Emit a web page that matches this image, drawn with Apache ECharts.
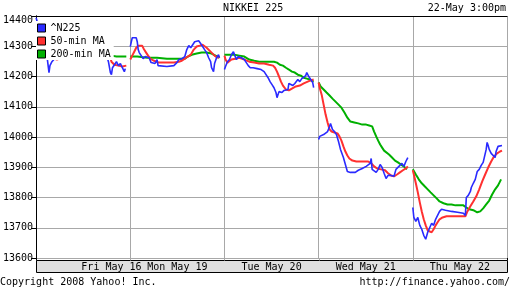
<!DOCTYPE html>
<html><head><meta charset="utf-8">
<script src="https://cdn.jsdelivr.net/npm/echarts@6/dist/echarts.min.js"></script>
<style>html,body{margin:0;padding:0;background:#fff}#c{width:512px;height:288px}</style>
</head><body><div id="c"></div>
<script>
const chartTitle = 'NIKKEI 225';
const stamp = '22-May 3:00pm';
const copyright = 'Copyright 2008 Yahoo! Inc.';
const source = 'http://finance.yahoo.com/';
const seriesNames = ['^N225', '50-min MA', '200-min MA'];
const dayLabels = ['Fri May 16', 'Mon May 19', 'Tue May 20', 'Wed May 21', 'Thu May 22'];
const dayLabelPos = [0.8, 1.5, 2.5, 3.5, 4.5];
const yMin = 13600, yMax = 14400, yStep = 100;

// time in trading days since the Fri 16 May open (each session = 1); null marks a session break
const n225T = [0,.011,.021,.032,.063,.095,.116,.137,.147,.168,.189,.221,.274,.326,.379,.432,.484,.537,.589,.642,.695,.726,.747,.768,.789,.8,.811,.832,.853,.874,.895,.916,.937,.947, null,
 1.000,1.011,1.021,1.042,1.063,1.074,1.084,1.095,1.116,1.137,1.158,1.179,1.200,1.221,1.242,1.263,1.284,1.295,1.316,1.389,1.463,1.495,1.516,1.547,1.579,1.600,1.621,1.642,1.663,1.684,1.705,1.726,1.747,1.768,1.789,1.811,1.832,1.853,1.863,1.884,1.895,1.916,1.937,1.947, null,
 2.000,2.011,2.032,2.053,2.074,2.095,2.116,2.126,2.147,2.179,2.211,2.232,2.253,2.274,2.305,2.347,2.389,2.421,2.442,2.463,2.484,2.505,2.526,2.547,2.558,2.568,2.579,2.611,2.632,2.653,2.674,2.684,2.705,2.726,2.747,2.768,2.779,2.800,2.821,2.842,2.863,2.874,2.895,2.916,2.926,2.937,2.947, null,
 3.000,3.011,3.032,3.053,3.074,3.095,3.116,3.126,3.147,3.168,3.189,3.211,3.232,3.242,3.263,3.284,3.305,3.337,3.389,3.421,3.463,3.505,3.547,3.558,3.568,3.589,3.611,3.632,3.653,3.674,3.695,3.716,3.737,3.768,3.800,3.821,3.842,3.863,3.884,3.905,3.926,3.947, null,
 4.000,4.011,4.032,4.053,4.074,4.095,4.116,4.137,4.147,4.158,4.179,4.200,4.221,4.242,4.263,4.284,4.305,4.347,4.411,4.474,4.537,4.558,4.568,4.589,4.611,4.621,4.642,4.663,4.684,4.705,4.726,4.747,4.768,4.779,4.789,4.800,4.811,4.832,4.853,4.874,4.884,4.905,4.926,4.947];
const n225V = [14394,14388,14371,14355,14322,14289,14266,14213,14236,14249,14256,14269,14282,14289,14295,14305,14309,14315,14322,14315,14305,14279,14272,14249,14213,14206,14229,14239,14249,14236,14243,14229,14216,14226, null,
 14299,14315,14328,14332,14328,14315,14289,14279,14269,14259,14266,14269,14262,14246,14249,14243,14256,14236,14236,14233,14236,14246,14256,14259,14266,14289,14302,14295,14305,14315,14309,14318,14309,14315,14289,14279,14262,14249,14229,14216,14243,14262,14272,14262, null,
 14223,14233,14249,14256,14272,14282,14276,14256,14266,14262,14256,14246,14236,14229,14229,14226,14223,14216,14210,14196,14183,14173,14163,14147,14130,14134,14150,14147,14154,14160,14157,14177,14180,14170,14177,14173,14190,14183,14193,14187,14203,14213,14200,14190,14193,14180,14163, null,
 13992,14002,13998,14008,14005,14018,14035,14045,14025,14018,14008,13985,13959,13965,13932,13909,13886,13883,13883,13890,13896,13903,13913,13929,13893,13899,13883,13893,13909,13899,13880,13863,13873,13873,13870,13893,13899,13906,13913,13903,13919,13932, null,
 13767,13734,13721,13734,13708,13695,13675,13662,13658,13685,13691,13715,13708,13728,13725,13754,13761,13758,13754,13751,13748,13741,13800,13807,13820,13833,13847,13860,13886,13893,13906,13916,13919,13959,13982,13972,13959,13946,13952,13932,13952,13969,13975,13972];

const ma50T = [.021,.063,.116,.168,.221,.274,.379,.484,.589,.695,.747,.768,.8,.832,.874,.916,.958, null,
 1.000,1.021,1.042,1.063,1.084,1.105,1.126,1.147,1.168,1.189,1.211,1.253,1.305,1.389,1.463,1.516,1.547,1.579,1.611,1.642,1.674,1.705,1.737,1.768,1.789,1.811,1.832,1.863,1.895,1.926,1.947, null,
 2.000,2.011,2.032,2.053,2.074,2.116,2.158,2.211,2.263,2.316,2.368,2.421,2.474,2.516,2.537,2.558,2.579,2.600,2.621,2.653,2.684,2.716,2.758,2.800,2.842,2.884,2.916,2.947, null,
 3.000,3.011,3.032,3.053,3.074,3.095,3.116,3.137,3.168,3.200,3.221,3.242,3.263,3.284,3.305,3.326,3.358,3.400,3.463,3.526,3.558,3.589,3.621,3.663,3.705,3.737,3.768,3.800,3.832,3.863,3.895,3.926,3.947, null,
 4.000,4.011,4.032,4.053,4.074,4.095,4.116,4.137,4.158,4.179,4.200,4.221,4.242,4.263,4.284,4.316,4.358,4.411,4.495,4.558,4.579,4.611,4.642,4.674,4.705,4.737,4.768,4.800,4.832,4.863,4.895,4.926,4.947];
const ma50V = [14295,14289,14272,14262,14256,14262,14272,14289,14299,14309,14302,14289,14249,14239,14236,14233,14236, null,
 14256,14269,14282,14295,14302,14305,14302,14289,14279,14269,14259,14252,14246,14246,14246,14249,14252,14259,14266,14272,14289,14299,14302,14305,14302,14295,14289,14279,14269,14262,14266, null,
 14269,14256,14246,14249,14256,14259,14262,14256,14249,14246,14243,14243,14239,14236,14229,14216,14200,14183,14170,14157,14154,14160,14167,14170,14177,14183,14187,14190, null,
 14180,14163,14140,14107,14074,14048,14025,14018,14015,14012,14002,13988,13969,13952,13939,13929,13922,13919,13919,13919,13913,13903,13896,13893,13890,13880,13873,13870,13876,13883,13890,13896,13903, null,
 13890,13876,13847,13817,13784,13754,13728,13708,13691,13685,13685,13695,13708,13718,13728,13734,13738,13738,13738,13738,13754,13771,13787,13804,13827,13853,13876,13899,13919,13936,13946,13952,13955];

const ma200T = [.589,.642,.695,.737,.768,.8,.853,.905,.958, null,
 1.000,1.074,1.179,1.284,1.389,1.495,1.579,1.611,1.653,1.705,1.758,1.811,1.863,1.905,1.947, null,
 2.000,2.053,2.105,2.158,2.211,2.263,2.316,2.368,2.421,2.474,2.526,2.558,2.589,2.621,2.653,2.684,2.716,2.747,2.779,2.811,2.842,2.874,2.905,2.947, null,
 3.000,3.021,3.053,3.084,3.116,3.147,3.179,3.211,3.242,3.274,3.305,3.337,3.379,3.421,3.463,3.505,3.537,3.568,3.589,3.611,3.632,3.653,3.674,3.695,3.716,3.747,3.779,3.811,3.842,3.874,3.905,3.937, null,
 4.000,4.032,4.063,4.095,4.126,4.158,4.189,4.221,4.253,4.284,4.326,4.368,4.411,4.453,4.495,4.537,4.568,4.600,4.642,4.684,4.716,4.747,4.779,4.811,4.842,4.874,4.905,4.937];
const ma200V = [14299,14305,14309,14289,14276,14269,14266,14266,14266, null,
 14266,14266,14262,14262,14259,14259,14259,14266,14272,14276,14279,14279,14276,14269,14262, null,
 14272,14272,14272,14269,14266,14256,14252,14249,14249,14249,14249,14246,14239,14236,14229,14223,14216,14213,14206,14203,14196,14193,14190,14183, null,
 14180,14167,14157,14147,14137,14127,14117,14107,14097,14081,14064,14051,14048,14045,14041,14041,14038,14035,14018,14002,13988,13975,13965,13955,13949,13942,13932,13922,13916,13909,13903,13893, null,
 13893,13876,13860,13847,13837,13827,13817,13807,13797,13787,13781,13777,13777,13774,13774,13774,13767,13761,13758,13751,13754,13764,13777,13790,13810,13827,13840,13860];

function pairs(T, V) {
  const out = [];
  for (let i = 0; i < T.length; i++) {
    if (V[i] === null) out.push([T[i - 1], '-']);
    else out.push([T[i], V[i]]);
  }
  return out;
}

const MONO = 'DejaVu Sans Mono';
const colors = { n225: '#2a2aff', ma50: '#ff3030', ma200: '#00b000' };
const chart = echarts.init(document.getElementById('c'), null, { renderer: 'canvas' });
const txt = { fontFamily: MONO, fontSize: 10, fontWeight: 'normal', color: '#000', lineHeight: 12 };

chart.setOption({
  animation: false,
  backgroundColor: '#fff',
  title: [
    { text: chartTitle, left: 223, top: 2, padding: 0, textStyle: txt },
    { text: stamp, right: 6, top: 2, padding: 0, textStyle: txt },
    { text: copyright, left: 0, top: 276, padding: 0, textStyle: txt },
    { text: source, right: 2, top: 276, padding: 0, textStyle: txt }
  ],
  legend: {
    orient: 'vertical', left: 36, top: 21, padding: [1, 3, 0, 1],
    itemWidth: 8, itemHeight: 8, itemGap: 1, icon: 'rect',
    backgroundColor: '#fff',
    itemStyle: { borderColor: '#000', borderWidth: 1 },
    textStyle: { fontFamily: MONO, fontSize: 10, color: '#000', lineHeight: 12 },
    data: seriesNames
  },
  grid: { left: 34, right: 5, top: 16, bottom: 30 },
  xAxis: [
    {
      type: 'value', min: 0, max: 5, interval: 1,
      axisLine: { show: false }, axisTick: { show: false },
      splitLine: { show: true, lineStyle: { color: '#a8a8a8', width: 1 } },
      axisLabel: {
        customValues: dayLabelPos,
        formatter: v => dayLabels[dayLabelPos.indexOf(v)] || '',
        fontFamily: MONO, fontSize: 10, color: '#000', margin: 3, lineHeight: 12
      }
    },
    {
      type: 'value', position: 'top', min: 0, max: 5, interval: 1,
      axisLine: { show: true, lineStyle: { color: '#000', width: 1 } },
      axisTick: { show: false }, axisLabel: { show: false }, splitLine: { show: false }
    }
  ],
  yAxis: [
    {
      type: 'value', min: yMin, max: yMax, interval: yStep,
      axisLine: { show: true, lineStyle: { color: '#000', width: 1 } },
      axisTick: { show: true, length: 4, lineStyle: { color: '#000' } },
      splitLine: { show: true, lineStyle: { color: '#a8a8a8', width: 1 } },
      axisLabel: {
        fontFamily: MONO, fontSize: 10, color: '#000', margin: 3,
        formatter: v => v === yMax ? '{top|' + v + '}' : String(v),
        rich: { top: { fontFamily: MONO, fontSize: 10, color: '#000', padding: [8, 0, 0, 0] } }
      }
    },
    {
      type: 'value', position: 'right', min: yMin, max: yMax, interval: yStep,
      axisLine: { show: true, lineStyle: { color: '#000', width: 1 } },
      axisTick: { show: true, inside: true, length: 5, lineStyle: { color: '#000' } },
      axisLabel: { show: false }, splitLine: { show: false }
    }
  ],
  series: [
    { name: seriesNames[2], type: 'line', data: pairs(ma200T, ma200V), showSymbol: false, connectNulls: false,
      color: colors.ma200, itemStyle: { color: colors.ma200 }, lineStyle: { color: colors.ma200, width: 2 } },
    { name: seriesNames[1], type: 'line', data: pairs(ma50T, ma50V), showSymbol: false, connectNulls: false,
      color: colors.ma50, itemStyle: { color: colors.ma50 }, lineStyle: { color: colors.ma50, width: 2 } },
    { name: seriesNames[0], type: 'line', data: pairs(n225T, n225V), showSymbol: false, connectNulls: false,
      color: colors.n225, itemStyle: { color: colors.n225 }, lineStyle: { color: colors.n225, width: 1.6 } }
  ]
});

// lower date band below the plot, positioned from the axis scales
const yBase = chart.convertToPixel({ yAxisIndex: 0 }, yMin);
const xL = chart.convertToPixel({ xAxisIndex: 0 }, 0);
const xR = chart.convertToPixel({ xAxisIndex: 0 }, 5);
const bandTop = Math.round(yBase) + 2.5;
const dividers = [1, 2, 3, 4].map(d => Math.round(chart.convertToPixel({ xAxisIndex: 0 }, d)) + 0.5);
const g = [
  { type: 'rect', z: 0, shape: { x: Math.round(xL) + 0.5, y: bandTop, width: Math.round(xR - xL), height: 12 },
    style: { fill: '#e0e0e0', stroke: '#000', lineWidth: 1 } },
  { type: 'line', shape: { x1: Math.round(xL) + 0.5, y1: yBase, x2: Math.round(xL) + 0.5, y2: bandTop }, style: { stroke: '#000', lineWidth: 1 } },
  { type: 'line', shape: { x1: Math.round(xR) + 0.5, y1: yBase, x2: Math.round(xR) + 0.5, y2: bandTop }, style: { stroke: '#000', lineWidth: 1 } }
].concat(dividers.map(x => ({ type: 'line', shape: { x1: x, y1: yBase, x2: x, y2: bandTop }, style: { stroke: '#a8a8a8', lineWidth: 1 } })));
chart.setOption({ graphic: g });
</script>
</body></html>
